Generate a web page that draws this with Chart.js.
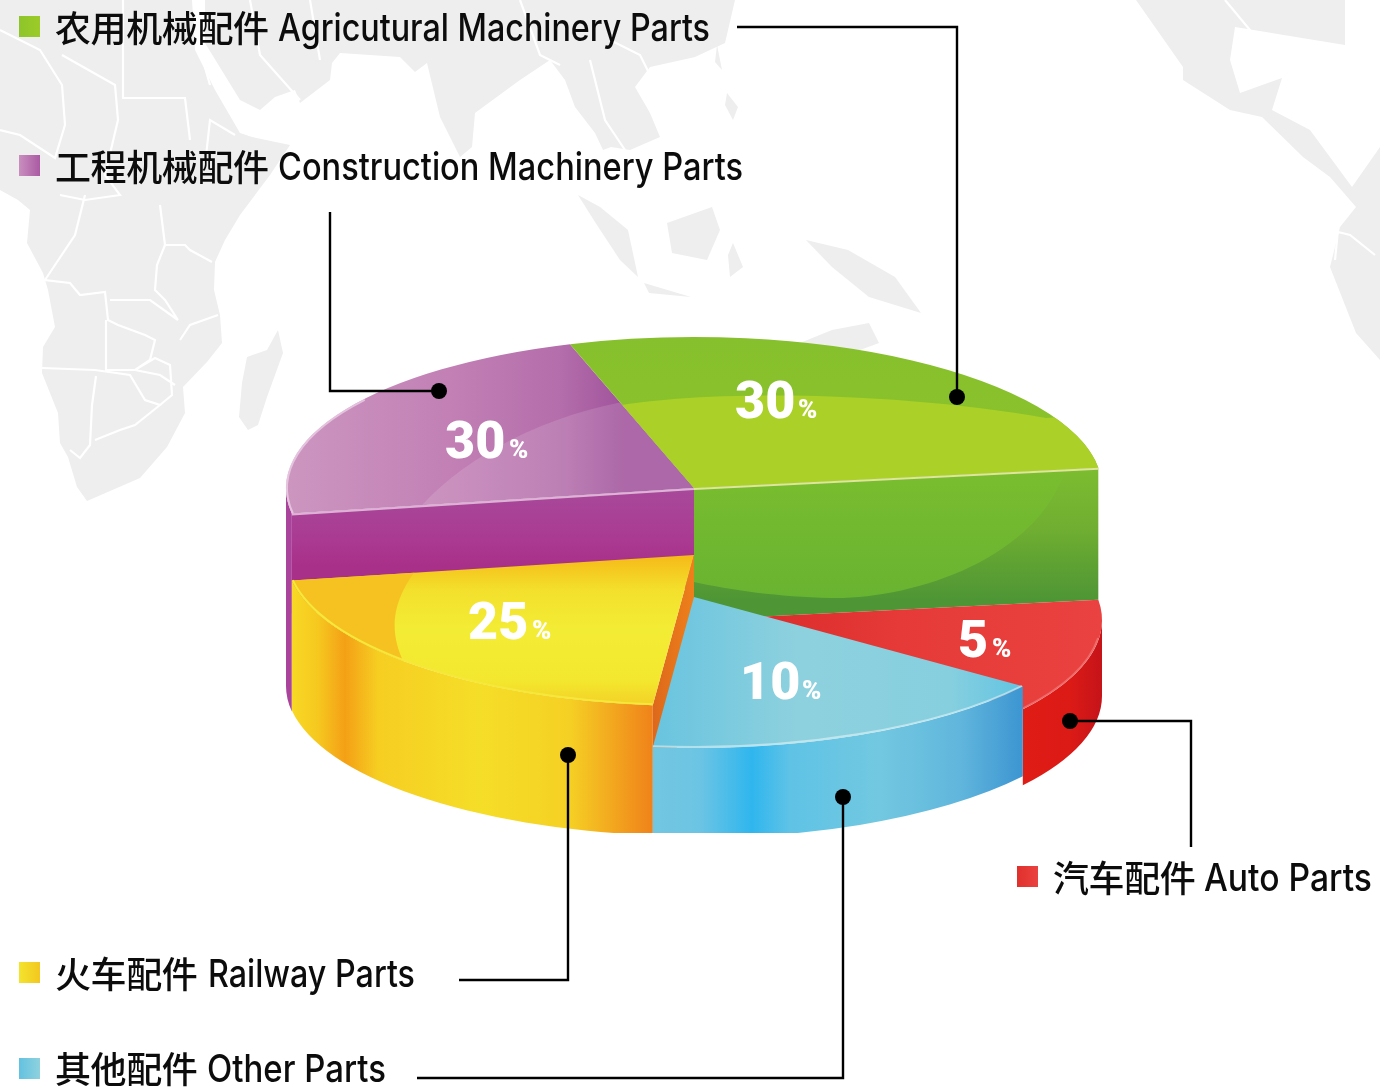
<!DOCTYPE html>
<html lang="zh">
<head>
<meta charset="utf-8">
<title>Parts share</title>
<script src="https://cdn.jsdelivr.net/npm/chart.js@4"></script>
<style>
html,body{margin:0;padding:0;background:#fff;width:1380px;height:1092px;overflow:hidden}
#map,#c{position:absolute;left:0;top:0}
.lg{position:absolute;white-space:nowrap;color:#0c0c0c;line-height:1}
.cn{font:500 36px "Noto Sans CJK SC";letter-spacing:-.4px}
.en{font:500 38px Inter;transform-origin:0 0}
.sw{position:absolute;width:21px;height:21px}
</style>
</head>
<body>
<svg id="map" width="1380" height="1092" viewBox="0 0 1380 1092">
<g fill="#eeeeee">
<path d="M0,0L192,0L195,50L215,90L240,133L252,137L290,145L270,175L240,215L225,240L215,262L214,290L220,315L222,343L207,362L183,387L185,413L167,447L140,478L87,501L77,487L68,457L60,443L58,413L42,373L43,347L55,327L48,290L43,273L27,243L30,210L18,200L0,190Z"/>
<path d="M278,330L283,353L267,397L258,425L248,430L239,417L242,383L247,357L267,350Z"/>
<path d="M205,0L205,43L240,100L260,110L275,97L295,90L300,103L330,80L332,63L340,53L400,57L415,72L427,63L440,117L460,157L472,147L475,113L520,80L550,60L565,80L575,107L595,133L603,150L611,147L630,150L660,137L650,113L635,87L650,67L695,57L725,43L735,0Z"/>
<path d="M578,195L600,207L628,230L638,277L620,260L595,222Z"/>
<path d="M667,223L712,207L720,230L707,260L672,253Z"/>
<path d="M644,283L691,297L649,293Z"/>
<path d="M733,243L743,267L730,277L728,255Z"/>
<path d="M806,240L848,250L895,277L921,313L869,297L832,267Z"/>
<path d="M790,347L832,330L869,323L879,343L860,350Z"/>
<path d="M727,93L738,107L733,120L725,105Z"/>
<path d="M717,45L722,70L715,62Z"/>
<path d="M1136,0L1183,67L1183,80L1230,110L1262,117L1303,157L1330,177L1356,207L1340,227L1330,267L1356,333L1380,360L1380,147L1352,187L1310,130L1272,110L1282,78L1240,93L1230,60L1235,27L1345,45L1345,0Z"/>
</g>
<g fill="none" stroke="#fff" stroke-width="2.2">
<path d="M0,30L40,50L62,85L65,125L55,158L20,135L0,130"/>
<path d="M123,0L123,98L185,98L190,140"/>
<path d="M62,55L115,85L118,120L105,175L120,195L85,200L60,195"/>
<path d="M205,165L210,120L235,135"/>
<path d="M160,205L165,245L185,245L190,250L212,262M165,245L157,265L155,290L165,300L178,320M110,300L150,300L178,320"/>
<path d="M85,195L75,235L55,265L45,280L70,283L80,295L105,292L108,320L118,325L145,335L155,340L150,360L135,370L160,375L175,385M106,320L106,370L135,370L155,358L170,365L172,395L160,405"/>
<path d="M42,368L95,370L130,375L145,400L160,405L135,425L120,430L95,440"/>
<path d="M96,376L92,405L90,445L80,458L70,450"/>
<path d="M218,315L190,325L180,340"/>
<path d="M200,50L210,85M250,0L260,55L300,100M310,0L320,60M520,0L540,55L560,65M590,60L605,120L625,150M610,40L640,55L650,75"/>
<path d="M1225,0L1250,30L1260,70M1330,125L1345,130L1345,150M1330,230L1350,235L1375,255M1338,230L1335,260"/>
</g>
</svg>
<canvas id="c" width="1380" height="1092"></canvas>
<script>
// Chart order runs clockwise from the top of the pie.
const sliceNamesCn = ['农用机械配件', '汽车配件', '其他配件', '火车配件', '工程机械配件'];
const sliceNamesEn = ['Agricutural Machinery Parts', 'Auto Parts', 'Other Parts', 'Railway Parts', 'Construction Machinery Parts'];
// The percentages printed on the slices.
const printedPercents = [30, 5, 10, 25, 30];
// The reference illustration does not draw its wedges in proportion to the printed
// percentages; these are the sweep angles (degrees).
const drawnSweepDegrees = [100, 44, 59.5, 74.5, 82];
const sliceFlatColors = ['#8ac22c', '#e53a38', '#6cc6e0', '#f3e42e', '#c27fb4'];
const firstSliceRotation = -17.7;

// ---- styling only: no values below this line ----
const PIE_X = 694, PIE_R = 408, TILT = 0.37;
const look = [
 {cy:488, wall:0,  cut:'end',   cutH:132, lx:735, ly:418, px:798},
 {cy:620, wall:76, lx:958, ly:657, px:992},
 {cy:597, wall:90, lx:740, ly:699, px:802},
 {cy:555, wall:130, cut:'start', cutH:130, lx:468, ly:639, px:532},
 {cy:488, wall:198, cut:'start', cutH:100, lx:445, ly:458, px:509}
];
const paintOrder = [4, 0, 3, 1, 2];
const legendLook = [
 {sx:19, sy:16,  a:'#8ec52a', b:'#9ccb28', cx:55,  enX:278,  enR:710,  base:41},
 {sx:1017,sy:866,a:'#e0302c', b:'#ea4240', cx:1053,enX:1204, enR:1372, base:891},
 {sx:19, sy:1058,a:'#62c2e0', b:'#8fd1de', cx:55,  enX:207,  enR:386,  base:1082},
 {sx:19, sy:962, a:'#f3e42e', b:'#f3c71f', cx:55,  enX:208,  enR:415,  base:987},
 {sx:19, sy:155, a:'#c98fbf', b:'#ab5aa3', cx:55,  enX:278,  enR:743,  base:180}
];
const leaders = [
 [[737,27],[957,27],[957,397]],
 [[1191,847],[1191,721],[1070,721]],
 [[417,1078],[843,1078],[843,797]],
 [[459,980],[568,980],[568,755]],
 [[330,212],[330,391],[439,391]]
];

function hGrad(ctx, x0, x1, stops){
  const g = ctx.createLinearGradient(x0,0,x1,0);
  stops.forEach(s=>g.addColorStop((s[0]-x0)/(x1-x0), s[1]));
  return g;
}
function vGrad(ctx, y0, y1, stops, map){
  const f = map || (y=>y);
  const g = ctx.createLinearGradient(0,f(y0),0,f(y1));
  stops.forEach(s=>g.addColorStop((s[0]-y0)/(y1-y0), s[1]));
  return g;
}
const topPaint = [
 (c,m)=>vGrad(c,337,488,[[337,'#86c02c'],[488,'#8cc32b']],m),
 (c,m)=>hGrad(c,765-m.dx,1100-m.dx,[[765-m.dx,'#dc2d2b'],[900-m.dx,'#e53a38'],[1100-m.dx,'#ea4240']]),
 (c,m)=>hGrad(c,655-m.dx,1021-m.dx,[[655-m.dx,'#69c4df'],[800-m.dx,'#8ed1de'],[950-m.dx,'#86cfdf'],[1021-m.dx,'#62c4e2']]),
 (c,m)=>vGrad(c,555,706,[[555,'#f6b918'],[590,'#f3e02c'],[630,'#f3ec35'],[680,'#f3e82f'],[706,'#f3d026']],m),
 (c,m)=>hGrad(c,286-m.dx,695-m.dx,[[286-m.dx,'#cc96c0'],[450-m.dx,'#c280b5'],[560-m.dx,'#b46eab'],[625-m.dx,'#a0529b'],[695-m.dx,'#a0529b']])
];
const wallPaint = [
 null,
 c=>hGrad(c,1021,1100,[[1021,'#e01c15'],[1070,'#dc1a16'],[1100,'#c61419']]),
 c=>hGrad(c,653,1021,[[653,'#72c7e0'],[700,'#6cc4e4'],[752,'#2fb6ee'],[790,'#5fc3e6'],[880,'#72c8e0'],[960,'#60b6dc'],[1021,'#3e96d2']]),
 c=>hGrad(c,291,653,[[291,'#f8d926'],[318,'#f6c81f'],[345,'#f4a016'],[378,'#f6ce22'],[480,'#f5de28'],[570,'#f5d024'],[620,'#f2a01e'],[653,'#f0821a']]),
 c=>'#a9439b'
];

const tiltedPie = {
  id:'tiltedPie',
  beforeDatasetsDraw(chart){
    const ctx = chart.ctx, arcs = chart.getDatasetMeta(0).data;
    const R = PIE_R, RY = PIE_R*TILT;
    const pt = (L,a)=>[PIE_X+R*Math.cos(a), L.cy+RY*Math.sin(a)];
    const facePath = (L,a0,a1)=>{ctx.beginPath();ctx.moveTo(PIE_X,L.cy);ctx.ellipse(PIE_X,L.cy,R,RY,0,a0,a1);ctx.closePath();};
    ctx.save();
    ctx.beginPath();ctx.rect(0,0,1380,833);ctx.clip();
    paintOrder.forEach(i=>{
      const arc = arcs[i], L = look[i], a0 = arc.startAngle, a1 = arc.endAngle;
      const w0 = Math.max(a0,0), w1 = Math.min(a1,Math.PI);
      if(L.wall && w1>w0){
        ctx.beginPath();
        ctx.ellipse(PIE_X,L.cy,R,RY,0,w0,w1);
        ctx.ellipse(PIE_X,L.cy+L.wall,R,RY,0,w1,w0,true);
        ctx.closePath();
        ctx.fillStyle = wallPaint[i](ctx); ctx.fill();
      }
      if(L.cut){
        const a = L.cut==='end'?a1:a0, p = pt(L,a), h = L.cutH;
        ctx.beginPath();ctx.moveTo(PIE_X,L.cy);ctx.lineTo(p[0],p[1]);ctx.lineTo(p[0],p[1]+h);ctx.lineTo(PIE_X,L.cy+h);ctx.closePath();
        if(i===0){
          ctx.fillStyle = vGrad(ctx,470,600,[[470,'#7cbc30'],[530,'#6fae31'],[600,'#4e9535']]);ctx.fill();
          ctx.save();ctx.clip();ctx.beginPath();ctx.moveTo(1067,465);ctx.bezierCurveTo(1040,560,910,600,830,598);ctx.bezierCurveTo(780,597,730,590,694,582);ctx.lineTo(694,470);ctx.closePath();
          ctx.fillStyle = vGrad(ctx,470,600,[[470,'#7abd2f'],[600,'#68b331']]);ctx.fill();ctx.restore();
        } else if(i===3){
          ctx.fillStyle = hGrad(ctx,653,694,[[653,'#dd681c'],[694,'#ee801a']]);ctx.fill();
        } else {
          ctx.fillStyle = vGrad(ctx,490,580,[[490,'#a8499a'],[540,'#aa3a92'],[565,'#a93089'],[580,'#a93089']]);ctx.fill();
        }
      }
      // top face, painted by the library's own arc element under a tilt transform
      const dx = PIE_X-arc.x;
      const m = y=>(y-L.cy)/TILT+arc.y; m.dx = dx;
      const saved = arc.options;
      arc.options = Object.assign({}, saved, {backgroundColor: topPaint[i](ctx,m), borderWidth:0});
      ctx.save();
      ctx.translate(dx,L.cy);ctx.scale(1,TILT);ctx.translate(0,-arc.y);
      arc.draw(ctx, chart.chartArea);
      ctx.restore();
      arc.options = saved;
      // soft highlights inside the top face
      ctx.save();
      facePath(L,a0,a1);ctx.clip();
      ctx.beginPath();
      if(i===0){
        ctx.moveTo(600,409);ctx.bezierCurveTo(700,388,900,392,1046,418);ctx.lineTo(1125,412);ctx.lineTo(1110,480);ctx.lineTo(600,500);ctx.closePath();
        ctx.fillStyle='#abd028';ctx.fill();
      } else if(i===4){
        ctx.moveTo(622,402);ctx.bezierCurveTo(530,420,455,465,416,512);ctx.lineTo(700,500);ctx.lineTo(700,400);ctx.closePath();
        ctx.fillStyle='rgba(255,255,255,.13)';ctx.fill();
      } else if(i===3){
        ctx.moveTo(433,550);ctx.bezierCurveTo(400,585,382,620,405,665);ctx.lineTo(280,665);ctx.lineTo(280,550);ctx.closePath();
        ctx.fillStyle='#f6c221';ctx.fill();
      }
      ctx.restore();
      // pale rims and edges
      ctx.lineWidth = 2;
      ctx.beginPath();
      ctx.strokeStyle = ['rgba(255,255,255,0)','rgba(255,255,255,.22)','rgba(255,255,255,.45)','#f5e83a','rgba(240,215,235,.7)'][i];
      if(i===4){ctx.ellipse(PIE_X,L.cy,R-1,RY-1,0,a0,Math.PI*1.2);}
      else if(i!==0){ctx.ellipse(PIE_X,L.cy,R-1,RY-1,0,Math.max(a0,0.12),a1);}
      ctx.stroke();
      if(i===0||i===4){
        const p = pt(L,i===0?a1:a0);
        ctx.beginPath();ctx.moveTo(PIE_X,L.cy+1);ctx.lineTo(p[0],p[1]+1);
        ctx.strokeStyle = i===0?'#dfe59c':'rgba(240,215,235,.75)';ctx.lineWidth=2;ctx.stroke();
      }
    });
    ctx.restore();
    // percent labels
    ctx.fillStyle='#fff';ctx.textBaseline='alphabetic';ctx.textAlign='left';
    printedPercents.forEach((v,i)=>{
      const L = look[i];
      ctx.font='900 52px Roboto';ctx.fillText(String(v),L.lx,L.ly);
      ctx.font='900 26px Roboto';ctx.fillText('%',L.px,L.ly);
    });
    // leader lines and anchor dots
    ctx.strokeStyle='#000';ctx.fillStyle='#000';ctx.lineWidth=2.4;ctx.lineJoin='miter';
    leaders.forEach(l=>{
      ctx.beginPath();l.forEach((p,k)=>k?ctx.lineTo(p[0],p[1]):ctx.moveTo(p[0],p[1]));ctx.stroke();
      const e=l[l.length-1];ctx.beginPath();ctx.arc(e[0],e[1],8,0,Math.PI*2);ctx.fill();
    });
    return false;
  }
};

new Chart(document.getElementById('c'),{
  type:'pie',
  data:{labels:sliceNamesEn,datasets:[{data:drawnSweepDegrees,backgroundColor:sliceFlatColors,borderWidth:0}]},
  options:{
    responsive:false,animation:false,radius:PIE_R,rotation:firstSliceRotation,
    plugins:{legend:{display:false},tooltip:{enabled:false}}
  },
  plugins:[tiltedPie]
});

// Legend as real text
sliceNamesEn.forEach((en,i)=>{
  const L=legendLook[i];
  const sw=document.createElement('div');sw.className='sw';
  sw.style.cssText=`left:${L.sx}px;top:${L.sy}px;background:linear-gradient(90deg,${L.a},${L.b})`;
  document.body.appendChild(sw);
  const cn=document.createElement('div');cn.className='lg cn';cn.textContent=sliceNamesCn[i];
  cn.style.left=L.cx+'px';cn.style.top=(L.base-41)+'px';
  document.body.appendChild(cn);
  const e=document.createElement('div');e.className='lg en';e.textContent=en;
  e.style.left=L.enX+'px';e.style.top=(L.base-37)+'px';
  document.body.appendChild(e);
  const w=e.getBoundingClientRect().width;
  e.style.transform=`scaleX(${(L.enR-L.enX)/w})`;
});
</script>
</body>
</html>
